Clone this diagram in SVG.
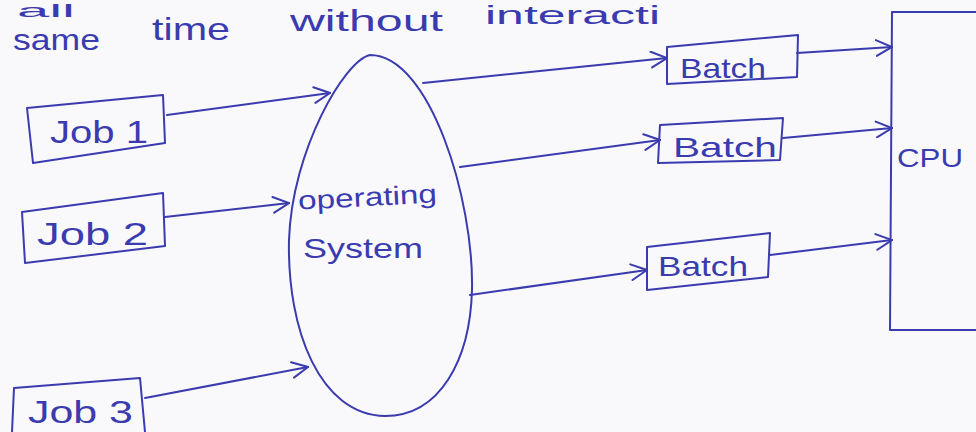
<svg xmlns="http://www.w3.org/2000/svg" width="976" height="432" viewBox="0 0 976 432">
<defs>
<style>
.ink{fill:none;stroke:#3b3bb0;stroke-width:2;stroke-linecap:round;stroke-linejoin:round}
.t{fill:#3b3bb0;font-family:"Liberation Sans","DejaVu Sans",sans-serif}
</style>
<marker id="ah" viewBox="0 0 16 16" refX="15" refY="8" markerWidth="18" markerHeight="18" markerUnits="userSpaceOnUse" orient="auto">
<path d="M1,1 L15,8 L1,15" fill="none" stroke="#3b3bb0" stroke-width="1.8" stroke-linecap="round"/>
</marker>
</defs>
<rect width="976" height="432" fill="#f9f9fb"/>
<g id="header">
<text class="t" x="17" y="17" font-size="18" textLength="58" lengthAdjust="spacingAndGlyphs">all</text>
<text class="t" x="13" y="50" font-size="30" textLength="87" lengthAdjust="spacingAndGlyphs">same</text>
<text class="t" x="152" y="40" font-size="32" textLength="78" lengthAdjust="spacingAndGlyphs">time</text>
<text class="t" x="290" y="31" font-size="30" textLength="153" lengthAdjust="spacingAndGlyphs">without</text>
<text class="t" x="485" y="24" font-size="26" textLength="175" lengthAdjust="spacingAndGlyphs">interacti</text>
</g>
<g id="job1">
<path class="ink" d="M27,108 L163,95 L165,143 L33,163 Z"/>
<text class="t" x="50" y="143" font-size="32" textLength="98" lengthAdjust="spacingAndGlyphs">Job 1</text>
</g>
<g id="job2">
<path class="ink" d="M22,212 L163,193 L165,246 L25,263 Z"/>
<text class="t" x="37" y="245" font-size="32" textLength="111" lengthAdjust="spacingAndGlyphs">Job 2</text>
</g>
<g id="job3">
<path class="ink" d="M14,388 L140,378 L145,432 M14,388 L12,432"/>
<text class="t" x="28" y="423" font-size="31" textLength="105" lengthAdjust="spacingAndGlyphs">Job 3</text>
</g>
<g id="os">
<path class="ink" d="M370,55 C345,60 292,150 289,240 C287,330 320,415 385,416 C440,416 470,360 472,290 C474,200 430,55 370,55 Z"/>
<text class="t" x="298" y="206" font-size="26" textLength="139" lengthAdjust="spacingAndGlyphs" transform="rotate(-3 367 198)">operating</text>
<text class="t" x="303" y="258" font-size="28" textLength="120" lengthAdjust="spacingAndGlyphs">System</text>
</g>
<g id="batch1">
<path class="ink" d="M667,47 L798,35 L797,77 L667,84 Z"/>
<text class="t" x="680" y="78" font-size="28" textLength="86" lengthAdjust="spacingAndGlyphs">Batch</text>
</g>
<g id="batch2">
<path class="ink" d="M660,125 L783,118 L780,160 L658,163 Z"/>
<text class="t" x="673" y="157" font-size="28" textLength="104" lengthAdjust="spacingAndGlyphs">Batch</text>
</g>
<g id="batch3">
<path class="ink" d="M647,247 L770,233 L768,277 L647,290 Z"/>
<text class="t" x="658" y="276" font-size="28" textLength="90" lengthAdjust="spacingAndGlyphs">Batch</text>
</g>
<g id="cpu">
<path class="ink" d="M976,12 L892,12 L890,330 L976,330"/>
<text class="t" x="897" y="167" font-size="26" textLength="66" lengthAdjust="spacingAndGlyphs">CPU</text>
</g>
<g id="connectors">
<path class="ink" d="M167,115 L330,93" marker-end="url(#ah)"/>
<path class="ink" d="M165,217 L289,203" marker-end="url(#ah)"/>
<path class="ink" d="M145,398 L308,367" marker-end="url(#ah)"/>
<path class="ink" d="M423,83 L667,58" marker-end="url(#ah)"/>
<path class="ink" d="M460,167 L660,140" marker-end="url(#ah)"/>
<path class="ink" d="M470,295 L647,270" marker-end="url(#ah)"/>
<path class="ink" d="M797,53 L892,47" marker-end="url(#ah)"/>
<path class="ink" d="M783,138 L892,128" marker-end="url(#ah)"/>
<path class="ink" d="M770,255 L892,240" marker-end="url(#ah)"/>
</g>
</svg>
